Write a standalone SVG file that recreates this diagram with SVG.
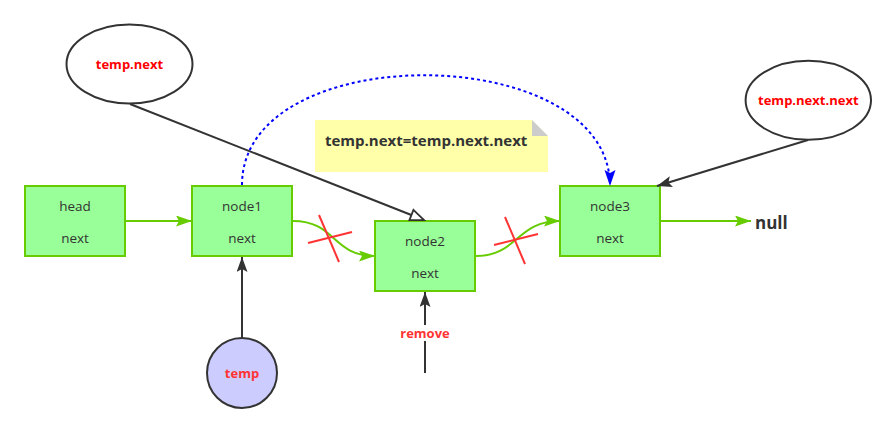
<svg xmlns="http://www.w3.org/2000/svg" width="896" height="433" viewBox="0 0 896 433">
<style>
.box{fill:#99ff99;stroke:#66cc00;stroke-width:2}
.lbl{font-family:"Open Sans","Liberation Sans",sans-serif;font-size:13.5px;fill:#333;text-anchor:middle}
.red{font-family:"Open Sans","Liberation Sans",sans-serif;font-size:13px;font-weight:bold;fill:#ff0000;text-anchor:middle}
.g{fill:none;stroke:#66cc00;stroke-width:2}
.k{fill:none;stroke:#333;stroke-width:2}
.x{stroke:#ff3333;stroke-width:2}
.ell{fill:#fff;stroke:#333;stroke-width:2}
</style>
<defs>
<marker id="ag" markerUnits="userSpaceOnUse" markerWidth="18" markerHeight="12" refX="16" refY="5.5" orient="auto"><path d="M0,0 L16,5.5 L0,11 L3,5.5 z" fill="#66cc00"/></marker>
<marker id="ak" markerUnits="userSpaceOnUse" markerWidth="18" markerHeight="12" refX="15" refY="5.5" orient="auto"><path d="M0,0 L15,5.5 L0,11 L3,5.5 z" fill="#333"/></marker>
<marker id="ab" markerUnits="userSpaceOnUse" markerWidth="18" markerHeight="12" refX="16" refY="5.5" orient="auto"><path d="M0,0 L16,5.5 L0,11 L3,5.5 z" fill="#0000ff"/></marker>
<marker id="ah" markerUnits="userSpaceOnUse" markerWidth="20" markerHeight="16" refX="15" refY="7" orient="auto" overflow="visible"><path d="M1.5,1.5 L15,7 L1.5,12.5 z" fill="#fff" stroke="#333" stroke-width="1.8"/></marker>
</defs>

<g id="head"><rect class="box" x="25" y="186" width="100" height="70"/><text class="lbl" x="75" y="211">head</text><text class="lbl" x="75" y="243">next</text></g>
<g id="node1"><rect class="box" x="192" y="186" width="100" height="70"/><text class="lbl" x="242" y="211">node1</text><text class="lbl" x="242" y="243">next</text></g>
<g id="node2"><rect class="box" x="375" y="221" width="100" height="70"/><text class="lbl" x="425" y="246">node2</text><text class="lbl" x="425" y="278">next</text></g>
<g id="node3"><rect class="box" x="560" y="186" width="100" height="70"/><text class="lbl" x="610" y="211">node3</text><text class="lbl" x="610" y="243">next</text></g>
<g id="null"><text x="755" y="229" font-family="'Open Sans','Liberation Sans',sans-serif" font-size="17" font-weight="bold" fill="#333">null</text></g>
<g id="temp"><circle cx="242" cy="373" r="35" fill="#ccccff" stroke="#333" stroke-width="2"/><text class="red" x="242" y="378" style="fill:#ff3333">temp</text></g>
<g id="tempnext"><ellipse class="ell" cx="129.5" cy="64" rx="63" ry="39.5"/><text class="red" x="129.5" y="69">temp.next</text></g>
<g id="tempnextnext"><ellipse class="ell" cx="808.3" cy="100.3" rx="62.7" ry="39.5"/><text class="red" x="808.3" y="105">temp.next.next</text></g>
<g id="note">
<path d="M315,120 L532,120 L548,136 L548,172 L315,172 z" fill="#ffffaa"/>
<path d="M532,120 L548,136 L532,136 z" fill="#cccccc"/>
<text x="325" y="146" font-family="'Open Sans','Liberation Sans',sans-serif" font-size="15" font-weight="bold" fill="#333">temp.next=temp.next.next</text>
</g>

<g id="connectors">
<path class="g" d="M126,221 L192,221" marker-end="url(#ag)"/>
<path class="g" d="M293,221 C336,221 332,256 375,256" marker-end="url(#ag)"/>
<path class="g" d="M476,256 C518,256 516,221 560,221" marker-end="url(#ag)"/>
<path class="g" d="M661,221 L751,221" marker-end="url(#ag)"/>
<path class="k" d="M242,338 L242,257" marker-end="url(#ak)"/>
<path class="k" d="M425,373 L425,292" marker-end="url(#ak)"/>
<rect x="398" y="325" width="54" height="16" fill="#fff"/>
<text class="red" x="425" y="338" style="fill:#ff3333">remove</text>
<path class="k" d="M130,104 L424,220" marker-end="url(#ah)"/>
<path class="k" d="M808,140 L657,186" marker-end="url(#ak)"/>
<path d="M242,185 C242,37 610,40 610,186" fill="none" stroke="#0000ff" stroke-width="2" stroke-dasharray="3 3" marker-end="url(#ab)"/>
<line class="x" x1="308" y1="243" x2="352" y2="232"/>
<line class="x" x1="319" y1="215" x2="339" y2="262"/>
<line class="x" x1="494" y1="245" x2="538" y2="234"/>
<line class="x" x1="505" y1="217" x2="525" y2="264"/>
</g>
</svg>
